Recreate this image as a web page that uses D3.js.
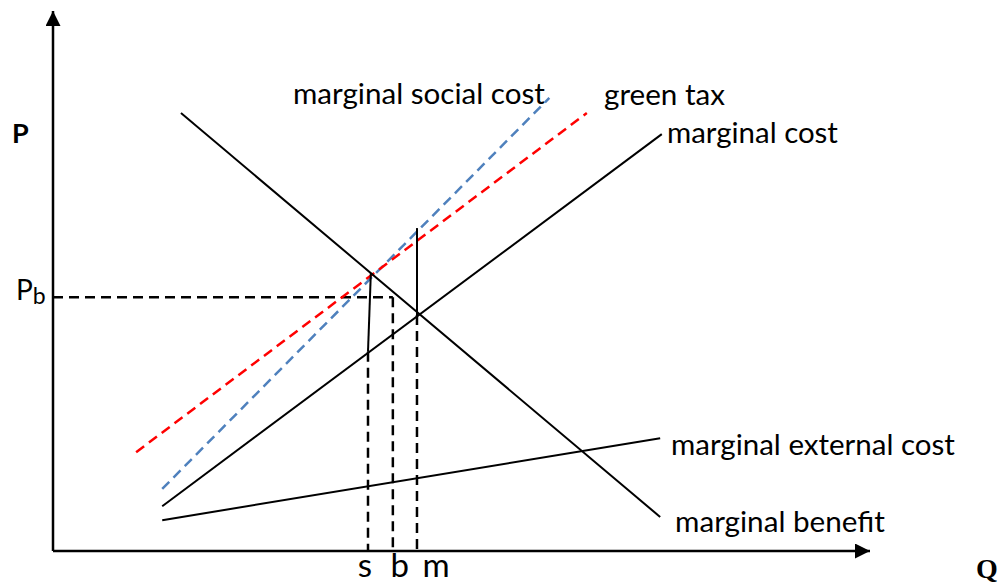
<!DOCTYPE html>
<html>
<head>
<meta charset="utf-8">
<script src="https://cdn.jsdelivr.net/npm/d3@7"></script>
<style>
  html, body { margin: 0; padding: 0; background: #fff; }
  svg { display: block; }
</style>
</head>
<body>
<svg id="chart" width="1000" height="583"></svg>
<script>
// ---- Data (schematic units: Q 0..100, P 0..100) ----
const marginalBenefit = [{q: 15.7, p: 81.1}, {q: 74.5, p: 6.3}];
const marginalCost = [{q: 13.4, p: 8.3}, {q: 74.7, p: 77.2}];
const marginalExternalCost = [{q: 13.4, p: 5.7}, {q: 74.5, p: 20.9}];
const marginalSocialCost = [{q: 13.4, p: 11.5}, {q: 60.9, p: 83.9}];
const greenTax = [{q: 10.2, p: 18.3}, {q: 65.5, p: 81.1}];
const taxSegmentS = [{q: 39.0, p: 51.5}, {q: 38.65, p: 36.9}];
const taxSegmentM = [{q: 44.66, p: 59.8}, {q: 44.66, p: 43.7}];
const priceB = 47.0;
const quantityTicks = [
  {label: "s", q: 38.65, top: 36.9},
  {label: "b", q: 41.7, top: 47.0},
  {label: "m", q: 44.66, top: 43.7}
];
const curveLabels = ["marginal social cost", "green tax", "marginal cost", "marginal external cost", "marginal benefit"];

// ---- Layout ----
const svg = d3.select("#chart");
const x = d3.scaleLinear().domain([0, 100]).range([53, 868]);
const y = d3.scaleLinear().domain([0, 100]).range([551, 11]);
const line = d3.line().x(d => x(d.q)).y(d => y(d.p));
const font = "Lato, 'Open Sans', sans-serif";

// Axes (arrowed)
const defs = svg.append("defs");
defs.append("marker").attr("id", "arrow").attr("viewBox", "0 0 10 10")
  .attr("refX", 10).attr("refY", 5).attr("markerUnits", "userSpaceOnUse")
  .attr("markerWidth", 15).attr("markerHeight", 15).attr("orient", "auto")
  .append("path").attr("d", "M0,0 L10,5 L0,10 Z").attr("fill", "#000");

svg.append("line").attr("x1", x(0)).attr("y1", y(0)).attr("x2", x(0)).attr("y2", y(100))
  .attr("stroke", "#000").attr("stroke-width", 2.5).attr("marker-end", "url(#arrow)");
svg.append("line").attr("x1", x(0)).attr("y1", y(0)).attr("x2", x(100) + 2).attr("y2", y(0))
  .attr("stroke", "#000").attr("stroke-width", 2.5).attr("marker-end", "url(#arrow)");

// Dashed guides
const dash = "10,6";
svg.append("path").datum([{q: 0, p: priceB}, {q: quantityTicks[1].q, p: priceB}])
  .attr("d", line).attr("fill", "none").attr("stroke", "#000").attr("stroke-width", 2.5)
  .attr("stroke-dasharray", dash);
quantityTicks.forEach(t => {
  svg.append("path").datum([{q: t.q, p: t.top}, {q: t.q, p: 0}])
    .attr("d", line).attr("fill", "none").attr("stroke", "#000").attr("stroke-width", 2.5)
    .attr("stroke-dasharray", dash);
});

// Curves
[
  {d: marginalSocialCost, c: "#4f81bd", dash: "10,6", w: 2.5},
  {d: greenTax, c: "#ff0000", dash: "10,6", w: 2.5},
  {d: marginalBenefit, c: "#000", dash: null, w: 2},
  {d: marginalCost, c: "#000", dash: null, w: 2},
  {d: marginalExternalCost, c: "#000", dash: null, w: 2},
  {d: taxSegmentS, c: "#000", dash: null, w: 2},
  {d: taxSegmentM, c: "#000", dash: null, w: 2}
].forEach(s => {
  svg.append("path").datum(s.d).attr("d", line).attr("fill", "none")
    .attr("stroke", s.c).attr("stroke-width", s.w)
    .attr("stroke-dasharray", s.dash);
});

// Labels: fitted to target width
function label(txt, lx, ly, width, opts = {}) {
  const t = svg.append("text").attr("x", lx).attr("y", ly)
    .attr("font-family", opts.family || font)
    .attr("font-weight", opts.weight || "normal")
    .attr("font-size", 30).attr("fill", "#000").text(txt);
  if (width) {
    const w = t.node().getComputedTextLength();
    t.attr("font-size", 30 * width / w);
  } else if (opts.size) {
    t.attr("font-size", opts.size);
  }
  return t;
}
label(curveLabels[0], 293, 104, 252);
label(curveLabels[1], 604, 105, 121);
label(curveLabels[2], 667, 143, 171);
label(curveLabels[3], 671, 455, 284);
label(curveLabels[4], 675, 532, 210);

label("P", 12, 143, null, {weight: "bold", size: 27});
const pb = svg.append("text").attr("x", 16).attr("y", 300)
  .attr("font-family", font).attr("font-size", 28).attr("fill", "#000");
pb.append("tspan").text("P");
pb.append("tspan").attr("font-size", 23).attr("dy", 4).text("b");

quantityTicks.forEach((t, i) => {
  svg.append("text").attr("x", x(t.q) + [-3, 7, 19][i]).attr("y", 577)
    .attr("text-anchor", "middle").attr("font-family", font).attr("font-size", 33)
    .attr("fill", "#000").text(t.label);
});

label("Q", 976, 578, null, {family: "'Liberation Serif', 'DejaVu Serif', serif", weight: "bold", size: 28});
</script>
</body>
</html>
